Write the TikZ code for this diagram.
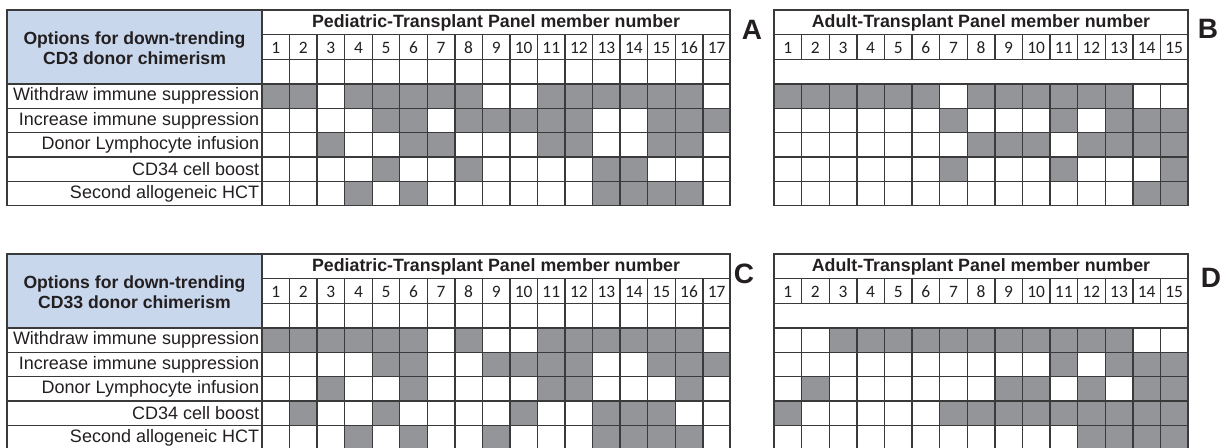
\documentclass[tikz,border=0pt]{standalone}
\usepackage{fontspec}
\setmainfont{Liberation Sans}
\newfontfamily\numfont{Carlito}

\tikzstyle{grid-line}=[draw=gridline, line width=0.7pt]
\tikzstyle{cell-on}=[fill=cellfill]
\tikzstyle{row-label}=[anchor=east, inner sep=0pt, text=textdark, font=\fontsize{9.0}{11}\selectfont]
\tikzstyle{opts-text}=[align=center, inner sep=0pt, text=textdark, font=\fontsize{8.8}{10}\selectfont\bfseries]
\tikzstyle{panel-title}=[inner sep=0pt, text=textdark, font=\fontsize{8.9}{10}\selectfont\bfseries]
\tikzstyle{num-text}=[inner sep=0pt, text=textdark, font=\fontsize{8.7}{9}\selectfont\numfont]
\tikzstyle{panel-tag}=[inner sep=0pt, text=textdark, font=\fontsize{14}{16}\selectfont\bfseries]
\definecolor{headerfill}{HTML}{C8D7EC}
\definecolor{cellfill}{HTML}{939598}
\definecolor{gridline}{HTML}{3A3A3A}
\definecolor{textdark}{HTML}{231F20}

\begin{document}
\begin{tikzpicture}[x=0.5pt, y=-0.5pt]
  \useasboundingbox (0,0) rectangle (1227,447);
  \clip (0,0) rectangle (1227,447);

  % ---------- top: CD3 ----------
  \fill[headerfill] (7,10) rectangle (262,84.1);
  \node (optsA) at (134.5,48) [opts-text] {Options for down-trending\\CD3 donor chimerism};
  \node (titleA) at (496,22.5) [panel-title] {Pediatric-Transplant Panel member number};
  \node (titleB) at (981,22.5) [panel-title] {Adult-Transplant Panel member number};
  \foreach \r/\cols in {1/{1,2,4,5,6,7,8,11,12,13,14,15,16}, 2/{5,6,8,9,10,11,12,15,16,17},
                        3/{3,6,7,11,12,15,16}, 4/{5,8,13,14}, 5/{4,6,13,14,15,16}}
    \foreach \c in \cols
      \fill[cell-on] ({262+(\c-1)*27.55},{84.1+(\r-1)*24.3}) rectangle ++(27.55,24.3);
  \foreach \r/\cols in {1/{1,2,3,4,5,6,8,9,10,11,12,13}, 2/{7,11,13,14,15},
                        3/{8,9,10,12,13,14,15}, 4/{7,11,15}, 5/{14,15}}
    \foreach \c in \cols
      \fill[cell-on] ({774+(\c-1)*27.6},{84.1+(\r-1)*24.3}) rectangle ++(27.6,24.3);
  % pediatric grid
  \draw[grid-line] (7,10) rectangle (730,205.6);
  \draw[grid-line] (262,10) -- (262,205.6);
  \foreach \y in {34.7,59.4} \draw[grid-line] (262,\y) -- (730,\y);
  \foreach \y in {84.1,108.4,132.7,157,181.3} \draw[grid-line] (7,\y) -- (730,\y);
  \foreach \k in {1,...,16} \draw[grid-line] ({262+\k*27.55},34.7) -- ({262+\k*27.55},205.6);
  % adult grid
  \draw[grid-line] (774,10) rectangle (1188,205.6);
  \foreach \y in {34.7,59.4,84.1,108.4,132.7,157,181.3} \draw[grid-line] (774,\y) -- (1188,\y);
  \foreach \k in {1,...,14} {
    \draw[grid-line] ({774+\k*27.6},34.7) -- ({774+\k*27.6},59.4);
    \draw[grid-line] ({774+\k*27.6},84.1) -- ({774+\k*27.6},205.6);
  }
  \foreach \n in {1,...,17} \node (numA\n) at ({262+(\n-0.5)*27.55},47.5) [num-text] {\n};
  \foreach \n in {1,...,15} \node (numB\n) at ({774+(\n-0.5)*27.6},47.5) [num-text] {\n};
  \foreach \r/\txt in {1/Withdraw immune suppression, 2/Increase immune suppression,
                       3/Donor Lymphocyte infusion, 4/CD34 cell boost, 5/Second allogeneic HCT}
    \node (optA\r) at (259.5,{84.1+(\r-0.5)*24.3}) [row-label] {\txt};
  \node (tagA) at (752,30) [panel-tag] {A};
  \node (tagB) at (1208,29) [panel-tag] {B};

  % ---------- bottom: CD33 ----------
  \begin{scope}[yshift=-122pt]
  \fill[headerfill] (7,10) rectangle (262,84.1);
  \node (optsC) at (134.5,48) [opts-text] {Options for down-trending\\CD33 donor chimerism};
  \node (titleC) at (496,22.5) [panel-title] {Pediatric-Transplant Panel member number};
  \node (titleD) at (981,22.5) [panel-title] {Adult-Transplant Panel member number};
  \foreach \r/\cols in {1/{1,2,3,4,5,6,8,11,12,13,14,15,16}, 2/{5,6,9,10,11,12,15,16,17},
                        3/{3,6,11,12,16}, 4/{2,5,10,13,14,15}, 5/{4,6,9,13,14,15,16}}
    \foreach \c in \cols
      \fill[cell-on] ({262+(\c-1)*27.55},{84.1+(\r-1)*24.3}) rectangle ++(27.55,24.3);
  \foreach \r/\cols in {1/{3,4,5,6,7,8,9,10,11,12,13}, 2/{11,13,14,15},
                        3/{2,9,10,12,14,15}, 4/{1,7,8,9,10,11,12,13,14,15}, 5/{12,13,14,15}}
    \foreach \c in \cols
      \fill[cell-on] ({774+(\c-1)*27.6},{84.1+(\r-1)*24.3}) rectangle ++(27.6,24.3);
  % pediatric grid
  \draw[grid-line] (7,10) rectangle (730,205.6);
  \draw[grid-line] (262,10) -- (262,205.6);
  \foreach \y in {34.7,59.4} \draw[grid-line] (262,\y) -- (730,\y);
  \foreach \y in {84.1,108.4,132.7,157,181.3} \draw[grid-line] (7,\y) -- (730,\y);
  \foreach \k in {1,...,16} \draw[grid-line] ({262+\k*27.55},34.7) -- ({262+\k*27.55},205.6);
  % adult grid
  \draw[grid-line] (774,10) rectangle (1188,205.6);
  \foreach \y in {34.7,59.4,84.1,108.4,132.7,157,181.3} \draw[grid-line] (774,\y) -- (1188,\y);
  \foreach \k in {1,...,14} {
    \draw[grid-line] ({774+\k*27.6},34.7) -- ({774+\k*27.6},59.4);
    \draw[grid-line] ({774+\k*27.6},84.1) -- ({774+\k*27.6},205.6);
  }
  \foreach \n in {1,...,17} \node (numC\n) at ({262+(\n-0.5)*27.55},47.5) [num-text] {\n};
  \foreach \n in {1,...,15} \node (numD\n) at ({774+(\n-0.5)*27.6},47.5) [num-text] {\n};
  \foreach \r/\txt in {1/Withdraw immune suppression, 2/Increase immune suppression,
                       3/Donor Lymphocyte infusion, 4/CD34 cell boost, 5/Second allogeneic HCT}
    \node (optC\r) at (259.5,{84.1+(\r-0.5)*24.3}) [row-label] {\txt};
  \node (tagC) at (744,30) [panel-tag] {C};
  \node (tagD) at (1211,34) [panel-tag] {D};
  \end{scope}
\end{tikzpicture}
\end{document}
